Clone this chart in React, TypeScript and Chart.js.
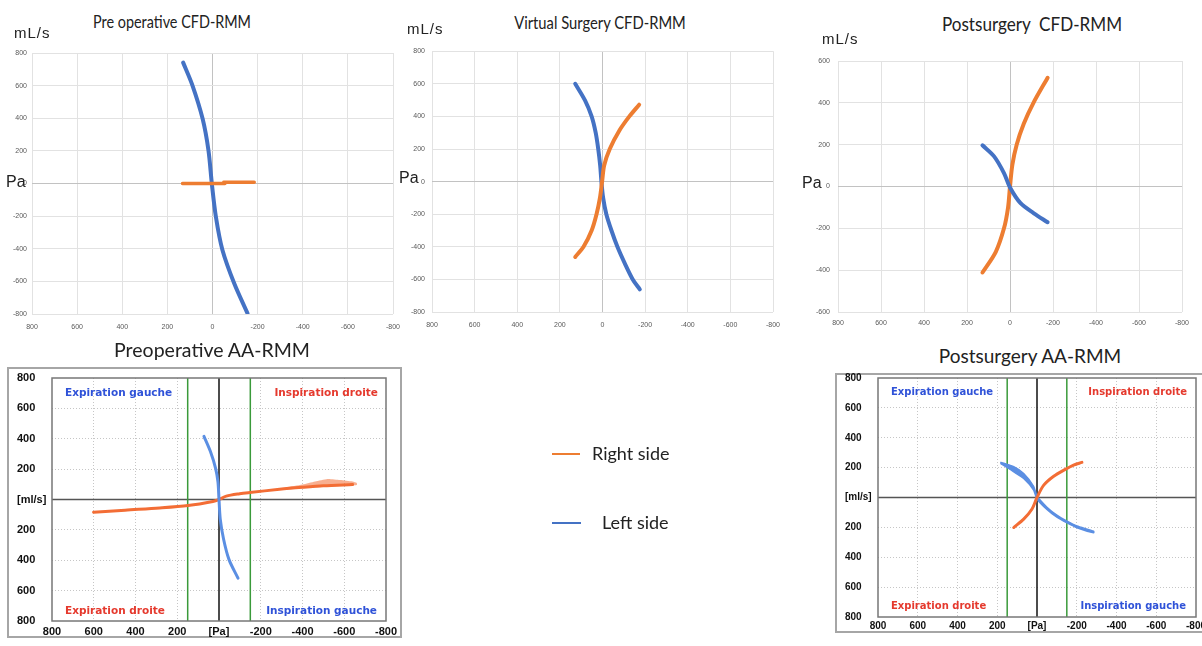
import React, { useEffect, useRef } from 'react';
import { Chart, registerables } from 'chart.js';

Chart.register(...registerables);

// ---------------- Data ----------------
// Axis ranges / ticks
const paRange = [-800, 800];
const flowRange800 = [-800, 800];
const flowRange600 = [-600, 600];
const tickStep = 200;
const aaPaTickValues = [800, 600, 400, 200, 0, -200, -400, -600, -800];
const aaPaTickLabels = ['800', '600', '400', '200', '[Pa]', '-200', '-400', '-600', '-800'];
const aaFlowTickValues = [800, 600, 400, 200, 0, -200, -400, -600, -800];
const aaFlowTickLabels = ['800', '600', '400', '200', '[ml/s]', '200', '400', '600', '800'];
const aaThresholdPa = [150, -150];

// Pre operative CFD-RMM
const preCfdLeftPa = [130, 89, 44, 18, 3, -15, -44, -96, -155];
const preCfdLeftFlow = [741, 602, 398, 204, 0, -204, -408, -612, -796];
const preCfdRightPa = [133, -55, -50, -185];
const preCfdRightFlow = [0, 0, 8, 8];

// Virtual Surgery CFD-RMM
const virtLeftPa = [128, 82, 51, 32, 20, 11, 5, -3, -18, -42, -70, -104, -142, -175];
const virtLeftFlow = [600, 498, 400, 300, 200, 100, 0, -100, -200, -300, -400, -500, -600, -661];
const virtRightPa = [-172, -126, -80, -34, -8, 2, 12, 28, 51, 89, 128];
const virtRightFlow = [472, 400, 315, 200, 100, 0, -100, -200, -300, -400, -462];

// Postsurgery CFD-RMM
const postCfdRightPa = [-175, -109, -64, -31, -11, 0, 9, 28, 66, 128];
const postCfdRightFlow = [520, 400, 300, 200, 104, 0, -100, -200, -312, -411];
const postCfdLeftPa = [128, 74, 28, 0, -49, -111, -175];
const postCfdLeftFlow = [197, 144, 64, -5, -80, -128, -171];

// Preoperative AA-RMM
const preAaRightPa = [601, 450, 284, 148, 29, 0, -35, -99, -147, -290, -400, -500, -640];
const preAaRightFlow = [-84, -70, -56, -40, -13, 0, 22, 38, 46, 67, 80, 90, 98];
const preAaRightSpreadPa = [-320, -400, -460, -520, -580, -640, -660, -660, -600, -500, -400, -320];
const preAaRightSpreadFlow = [80, 98, 118, 135, 128, 118, 108, 95, 90, 82, 74, 64];
const preAaLeftPa = [72, 41, 16, 5, 0, -6, -22, -48, -91];
const preAaLeftFlow = [416, 316, 204, 116, 0, -129, -262, -396, -518];

// Postsurgery AA-RMM
const postAaLeftBandPa = [184, 117, 67, 17, 0, -50, -100, -151, -201, -285, -285, -201, -151, -100, -50, 0, 17, 67, 117, 184];
const postAaLeftBandFlow = [237, 206, 160, 75, 10, -65, -118, -158, -190, -226, -236, -202, -170, -132, -80, -10, 50, 127, 172, 228];
const postAaRightPa = [117, 67, 25, 0, -33, -84, -142, -184, -226];
const postAaRightFlow = [-201, -145, -77, 0, 81, 142, 188, 217, 235];

// ---------------- Styles ----------------
const CFD_BLUE = '#4472c4';
const CFD_ORANGE = '#ed7d31';
const AA_BLUE = '#5b8fe3';
const AA_ORANGE = '#f36d35';
const AA_GREEN = '#3a9a3a';
const TICK_FONT = '"Liberation Sans", Arial, sans-serif';
const TITLE_FONT = 'Lato, "Open Sans", sans-serif';
const QUAD_FONT = '"DejaVu Sans", Verdana, sans-serif';

const toPts = (xs: number[], ys: number[]) => xs.map((x, i) => ({ x, y: ys[i] }));

function curve(data: any[], color: string, width: number, tension = 0.3) {
  return {
    data,
    showLine: true,
    borderColor: color,
    backgroundColor: color,
    borderWidth: width,
    pointRadius: 0,
    tension,
    borderCapStyle: 'round',
    borderJoinStyle: 'round',
    fill: false,
  };
}

function band(data: any[], color: string, fillColor: string, width = 1) {
  return {
    data,
    showLine: true,
    borderColor: color,
    backgroundColor: fillColor,
    borderWidth: width,
    pointRadius: 0,
    tension: 0.2,
    fill: 'shape',
  };
}

const frameRect = {
  id: 'frameRect',
  afterDatasetsDraw(chart: any, _args: any, opts: any) {
    if (!opts || !opts.color) return;
    const { ctx, chartArea } = chart;
    ctx.save();
    ctx.strokeStyle = opts.color;
    ctx.lineWidth = opts.width || 1;
    ctx.strokeRect(chartArea.left, chartArea.top, chartArea.right - chartArea.left, chartArea.bottom - chartArea.top);
    ctx.restore();
  },
};

type Box = { x: number; y: number; w: number; h: number };
type Area = { l: number; t: number; r: number; b: number };

function labelFor(values: number[], labels: string[], v: number) {
  const i = values.indexOf(v);
  return i >= 0 ? labels[i] : '';
}

function excelConfig(box: Box, area: Area, yRange: number[], datasets: any[], xPad: number, yPad: number) {
  const gridColor = (c: any) => (c.tick && c.tick.value === 0 ? '#c2c2c2' : '#e2e2e2');
  return {
    type: 'scatter',
    data: { datasets },
    options: {
      responsive: false,
      animation: false,
      devicePixelRatio: 1,
      events: [],
      layout: { padding: { left: 0, top: area.t - box.y, right: box.x + box.w - area.r, bottom: 0 } },
      plugins: { legend: { display: false }, tooltip: { enabled: false } },
      scales: {
        x: {
          type: 'linear',
          min: paRange[0],
          max: paRange[1],
          reverse: true,
          ticks: { stepSize: tickStep, autoSkip: false, maxRotation: 0, padding: xPad, color: '#595959', font: { size: 7, family: TICK_FONT } },
          grid: { drawTicks: false, color: gridColor, lineWidth: 1 },
          border: { display: false },
          afterFit: (s: any) => { s.height = box.y + box.h - area.b; },
        },
        y: {
          type: 'linear',
          min: yRange[0],
          max: yRange[1],
          ticks: { stepSize: tickStep, autoSkip: false, padding: yPad, color: '#595959', font: { size: 7, family: TICK_FONT } },
          grid: { drawTicks: false, color: gridColor, lineWidth: 1 },
          border: { display: false },
          afterFit: (s: any) => { s.width = area.l - box.x; },
        },
      },
    },
  };
}

function aaConfig(box: Box, area: Area, padLeft: number, datasets: any[], fontSize: number, xPad: number) {
  const gridColor = (c: any) => (c.tick && (c.tick.value === 0 || Math.abs(c.tick.value) === 800) ? 'rgba(0,0,0,0)' : '#c6c6c6');
  const refLines = [
    curve(toPts([aaThresholdPa[0], aaThresholdPa[0]], flowRange800), AA_GREEN, 1.5, 0),
    curve(toPts([aaThresholdPa[1], aaThresholdPa[1]], flowRange800), AA_GREEN, 1.5, 0),
    curve(toPts([0, 0], flowRange800), '#111111', 1.5, 0),
    curve(toPts(paRange, [0, 0]), '#555555', 1.5, 0),
  ];
  return {
    type: 'scatter',
    data: { datasets: [...datasets, ...refLines] },
    plugins: [frameRect],
    options: {
      responsive: false,
      animation: false,
      devicePixelRatio: 1,
      events: [],
      layout: { padding: { left: padLeft, top: area.t - box.y, right: box.x + box.w - area.r, bottom: 0 } },
      plugins: { legend: { display: false }, tooltip: { enabled: false }, frameRect: { color: '#777777', width: 1.5 } },
      scales: {
        x: {
          type: 'linear',
          min: paRange[0],
          max: paRange[1],
          reverse: true,
          ticks: {
            stepSize: tickStep, autoSkip: false, maxRotation: 0, padding: xPad, color: '#111',
            font: { size: fontSize, weight: 'bold', family: TICK_FONT },
            callback: (v: number) => labelFor(aaPaTickValues, aaPaTickLabels, v),
          },
          grid: { drawTicks: false, color: gridColor, lineWidth: 1, borderDash: [1, 2] },
          border: { display: false, dash: [1, 2] },
          afterFit: (s: any) => { s.height = box.y + box.h - area.b; },
        },
        y: {
          type: 'linear',
          min: flowRange800[0],
          max: flowRange800[1],
          ticks: {
            stepSize: tickStep, autoSkip: false, crossAlign: 'far', padding: 3, color: '#111',
            font: { size: fontSize, weight: 'bold', family: TICK_FONT },
            callback: (v: number) => labelFor(aaFlowTickValues, aaFlowTickLabels, v),
          },
          grid: { drawTicks: false, color: gridColor, lineWidth: 1, borderDash: [1, 2] },
          border: { display: false, dash: [1, 2] },
          afterFit: (s: any) => { s.width = area.l - box.x - padLeft; },
        },
      },
    },
  };
}

function ChartCanvas({ box, config }: { box: Box; config: any }) {
  const ref = useRef<HTMLCanvasElement>(null);
  useEffect(() => {
    if (!ref.current) return;
    const chart = new Chart(ref.current, config);
    return () => chart.destroy();
  }, []);
  return (
    <canvas
      ref={ref}
      width={box.w}
      height={box.h}
      style={{ position: 'absolute', left: box.x, top: box.y, width: box.w, height: box.h }}
    />
  );
}

type TP = {
  x: number; y: number; text: string; size: number; family: string;
  color?: string; weight?: number | string; align?: 'left' | 'center' | 'right'; sx?: number; ls?: number;
};
function T({ x, y, text, size, family, color = '#222', weight = 400, align = 'left', sx = 1, ls = 0 }: TP) {
  const W = 400;
  let left = x;
  if (align === 'center') left = x - W / 2;
  if (align === 'right') left = x - W;
  return (
    <div
      style={{
        position: 'absolute', left, top: y - size / 2, width: W, height: size, lineHeight: `${size}px`,
        fontSize: size, fontFamily: family, color, fontWeight: weight as any, textAlign: align,
        whiteSpace: 'pre', transform: `scaleX(${sx})`, transformOrigin: align === 'center' ? '50% 50%' : align === 'right' ? '100% 50%' : '0% 50%',
        letterSpacing: ls,
      }}
    >
      {text}
    </div>
  );
}

// boxes / areas (page coordinates)
const b1: Box = { x: 0, y: 40, w: 415, h: 300 };
const a1: Area = { l: 32, t: 53, r: 393, b: 314 };
const b2: Box = { x: 395, y: 40, w: 405, h: 300 };
const a2: Area = { l: 432, t: 50, r: 773, b: 312 };
const b3: Box = { x: 800, y: 45, w: 422, h: 295 };
const a3: Area = { l: 838, t: 61, r: 1182, b: 312 };
const b4: Box = { x: 7, y: 367, w: 413, h: 279 };
const a4: Area = { l: 52, t: 378, r: 386, b: 621 };
const b5: Box = { x: 835, y: 367, w: 395, h: 279 };
const a5: Area = { l: 878, t: 378, r: 1196, b: 617 };

const cfg1 = excelConfig(b1, a1, flowRange800, [
  curve(toPts(preCfdRightPa, preCfdRightFlow), CFD_ORANGE, 3.5, 0),
  curve(toPts(preCfdLeftPa, preCfdLeftFlow), CFD_BLUE, 4),
], 9, 5);
const cfg2 = excelConfig(b2, a2, flowRange800, [
  curve(toPts(virtRightPa, virtRightFlow), CFD_ORANGE, 4),
  curve(toPts(virtLeftPa, virtLeftFlow), CFD_BLUE, 4),
], 9, 7);
const cfg3 = excelConfig(b3, a3, flowRange600, [
  curve(toPts(postCfdLeftPa, postCfdLeftFlow), CFD_BLUE, 4),
  curve(toPts(postCfdRightPa, postCfdRightFlow), CFD_ORANGE, 4),
], 7, 8);
const cfg4 = aaConfig(b4, a4, 10, [
  curve(toPts(preAaLeftPa, preAaLeftFlow), AA_BLUE, 3),
  curve(toPts(preAaRightPa, preAaRightFlow), AA_ORANGE, 3),
  band(toPts(preAaRightSpreadPa, preAaRightSpreadFlow), 'rgba(0,0,0,0)', 'rgba(243,109,53,0.55)', 0),
], 11, 4.5);
const cfg5 = aaConfig(b5, a5, 10, [
  curve(toPts(postAaRightPa, postAaRightFlow), AA_ORANGE, 3),
  band(toPts(postAaLeftBandPa, postAaLeftBandFlow), AA_BLUE, AA_BLUE, 1.5),
], 10, 3);

const QBLUE = '#2f52d8';
const QRED = '#e5392d';

export default function App() {
  return (
    <div style={{ position: 'fixed', left: 0, top: 0, width: 1202, height: 646, overflow: 'hidden', background: '#fff' }}>
      <div style={{ position: 'absolute', left: 7, top: 367, width: 395, height: 271, border: '2px solid #a6a6a6', boxSizing: 'border-box' }} />
      <div style={{ position: 'absolute', left: 835, top: 373, width: 400, height: 260, border: '2px solid #a6a6a6', boxSizing: 'border-box' }} />

      <ChartCanvas box={b1} config={cfg1} />
      <ChartCanvas box={b2} config={cfg2} />
      <ChartCanvas box={b3} config={cfg3} />
      <ChartCanvas box={b4} config={cfg4} />
      <ChartCanvas box={b5} config={cfg5} />

      {/* titles */}
      <T x={172} y={21} text="Pre operative CFD-RMM" size={18} family={TITLE_FONT} align="center" sx={0.8} />
      <T x={600} y={22} text="Virtual Surgery CFD-RMM" size={18} family={TITLE_FONT} align="center" sx={0.82} />
      <T x={1032} y={23} text="Postsurgery  CFD-RMM" size={19} family={TITLE_FONT} align="center" sx={0.9} />
      <T x={212} y={350} text="Preoperative AA-RMM" size={19.5} family={TITLE_FONT} align="center" />
      <T x={1030} y={355} text="Postsurgery AA-RMM" size={19} family={TITLE_FONT} align="center" />

      {/* axis unit labels */}
      <T x={14} y={32} text="mL/s" size={15} family={TICK_FONT} ls={1} />
      <T x={407} y={28} text="mL/s" size={15} family={TICK_FONT} ls={1} />
      <T x={822} y={38} text="mL/s" size={15} family={TICK_FONT} ls={1} />
      <T x={6} y={182} text="Pa" size={16} family={TICK_FONT} />
      <T x={399} y={178} text="Pa" size={16} family={TICK_FONT} />
      <T x={802} y={183} text="Pa" size={16} family={TICK_FONT} />

      {/* quadrant labels, preoperative AA-RMM */}
      <T x={65} y={392} text="Expiration gauche" size={10.5} family={QUAD_FONT} weight={700} color={QBLUE} />
      <T x={378} y={392} text="Inspiration droite" size={10.5} family={QUAD_FONT} weight={700} color={QRED} align="right" />
      <T x={65} y={610} text="Expiration droite" size={10.5} family={QUAD_FONT} weight={700} color={QRED} />
      <T x={377} y={610} text="Inspiration gauche" size={10.5} family={QUAD_FONT} weight={700} color={QBLUE} align="right" />

      {/* quadrant labels, postsurgery AA-RMM */}
      <T x={891} y={392} text="Expiration gauche" size={10} family={QUAD_FONT} weight={700} color={QBLUE} />
      <T x={1187} y={392} text="Inspiration droite" size={10} family={QUAD_FONT} weight={700} color={QRED} align="right" />
      <T x={891} y={606} text="Expiration droite" size={10} family={QUAD_FONT} weight={700} color={QRED} />
      <T x={1186} y={606} text="Inspiration gauche" size={10} family={QUAD_FONT} weight={700} color={QBLUE} align="right" />

      {/* shared legend */}
      <div style={{ position: 'absolute', left: 552, top: 453, width: 28, height: 2, background: CFD_ORANGE }} />
      <T x={592} y={453} text="Right side" size={18} family={TITLE_FONT} />
      <div style={{ position: 'absolute', left: 552, top: 522, width: 29, height: 2, background: CFD_BLUE }} />
      <T x={602} y={522} text="Left side" size={18} family={TITLE_FONT} />
    </div>
  );
}
